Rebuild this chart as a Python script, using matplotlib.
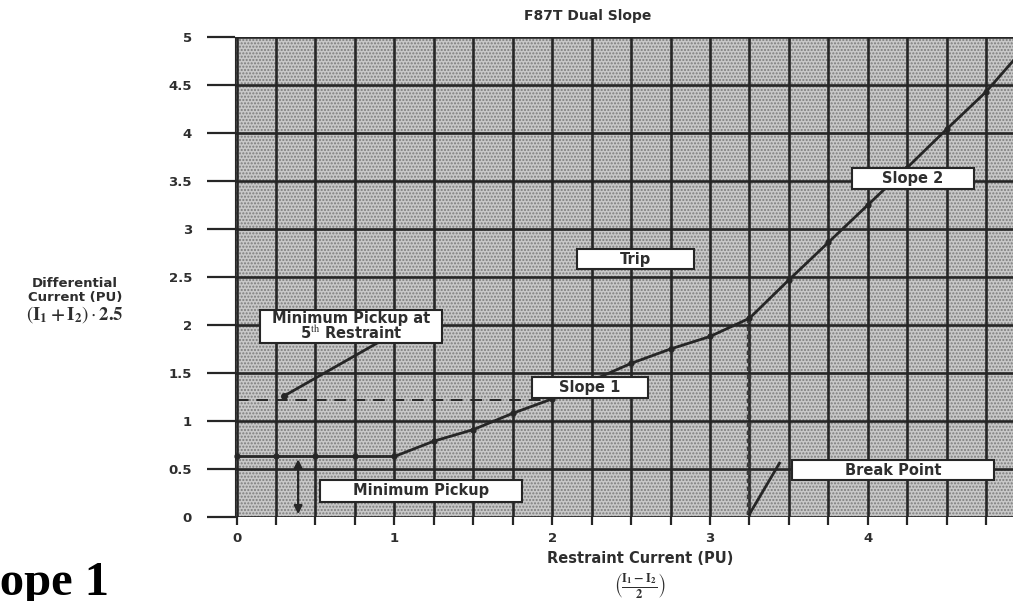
import matplotlib.pyplot as plt
from matplotlib.patches import Rectangle

restraint = [0, 0.25, 0.5, 0.75, 1.0, 1.25, 1.5, 1.75, 2.0, 2.25, 2.5, 2.75,
             3.0, 3.25, 3.5, 3.75, 4.0, 4.25, 4.5, 4.75, 4.92]
differential = [0.63, 0.63, 0.63, 0.63, 0.63, 0.79, 0.91, 1.08, 1.23, 1.42, 1.6, 1.75,
                1.88, 2.07, 2.47, 2.86, 3.25, 3.64, 4.04, 4.43, 4.75]
min_pickup = 0.63
min_pickup_5th = 1.22
break_point = 3.25
break_diff = 2.07
x_ticks = [i * 0.25 for i in range(20)]
y_ticks = [0, 0.5, 1, 1.5, 2, 2.5, 3, 3.5, 4, 4.5, 5]
y_tick_labels = ['0', '0.5', '1', '1.5', '2', '2.5', '3', '3.5', '4', '4.5', '5']

# labelled boxes: text, x0, x1, y0, y1 (data units)
boxes = [
    ('Minimum Pickup at\n5$^{\\mathrm{th}}$ Restraint', 0.15, 1.30, 1.81, 2.16),
    ('Minimum Pickup', 0.53, 1.81, 0.16, 0.39),
    ('Slope 1', 1.87, 2.61, 1.24, 1.46),
    ('Trip', 2.16, 2.90, 2.58, 2.79),
    ('Slope 2', 3.90, 4.67, 3.42, 3.64),
    ('Break Point', 3.52, 4.80, 0.38, 0.59),
]

ink = '#262626'
txt = '#2e2e2e'
plt.rcParams['font.family'] = ['DejaVu Sans']
plt.rcParams['mathtext.fontset'] = 'stix'

fig = plt.figure(figsize=(10.13, 6.01), dpi=100)
ax = fig.add_axes([0.232, 0.1398, 0.768, 0.7987])
ax.set_xlim(-0.01, 4.92)
ax.set_ylim(0, 5)
ax.set_facecolor('#c8c8c8')
# stipple texture like the scanned chart paper
ax.add_patch(Rectangle((0, 0), 1, 1, transform=ax.transAxes, facecolor='none',
                       edgecolor='#7c7c7c', hatch='.....', linewidth=0, zorder=0))

ax.grid(True, color=ink, linewidth=1.9, zorder=1)
ax.set_axisbelow(True)
for s in ['top', 'right', 'bottom']:
    ax.spines[s].set_visible(False)
ax.spines['left'].set_color(ink)

ax.set_xticks(x_ticks)
ax.set_xticklabels([str(int(v)) if float(v).is_integer() else '' for v in x_ticks],
                   fontsize=9.5, fontweight='bold', color=txt)
ax.set_yticks(y_ticks)
ax.set_yticklabels(y_tick_labels, fontsize=9.5, fontweight='bold', color=txt)
ax.tick_params(axis='y', length=20, width=1.6, color=ink, pad=11)
ax.tick_params(axis='x', length=6, width=1.6, color=ink, pad=5)

# characteristic
ax.plot(restraint, differential, color=ink, linewidth=2, marker='o', markersize=3.5,
        markevery=list(range(len(restraint) - 1)), zorder=4, clip_on=False)

# dashed line for minimum pickup at 5th restraint
ax.plot([0, 1.95], [min_pickup_5th, min_pickup_5th], color=ink, linewidth=1.4,
        linestyle=(0, (6, 4)), zorder=3)
# dotted break point line
ax.plot([break_point, break_point], [0.02, break_diff], color='#3a3a3a', linewidth=3.2,
        linestyle=(0, (1, 0.8)), zorder=3)

# arrows / pointers
ax.annotate('', xy=(0.39, min_pickup), xytext=(0.39, 0),
            arrowprops=dict(arrowstyle='<|-|>', color=ink, lw=1.6, mutation_scale=12), zorder=5)
ax.plot([0.3, 0.9], [1.26, 1.82], color=ink, linewidth=2, zorder=4)
ax.plot([0.3], [1.26], 'o', color=ink, markersize=4, zorder=4)
ax.plot([break_point, 3.44], [0.03, 0.56], color=ink, linewidth=2, zorder=4)

for label, x0, x1, y0, y1 in boxes:
    ax.add_patch(Rectangle((x0, y0), x1 - x0, y1 - y0, facecolor='white',
                           edgecolor=ink, linewidth=1.5, zorder=6))
    ax.text((x0 + x1) / 2, (y0 + y1) / 2, label, ha='center', va='center',
            fontsize=10.5, fontweight='bold', color=txt, zorder=7, linespacing=0.95)

fig.text(0.580, 0.974, 'F87T Dual Slope', ha='center', va='center',
         fontsize=10, fontweight='bold', color=txt)
fig.text(0.074, 0.517, 'Differential\nCurrent (PU)', ha='center', va='center',
         fontsize=9.5, fontweight='bold', color=txt, linespacing=1.05)
fig.text(0.074, 0.477, r'$(\mathbf{I_1+I_2})\cdot\mathbf{2.5}$', ha='center', va='center',
         fontsize=13.5, color=txt)
fig.text(0.632, 0.071, 'Restraint Current (PU)', ha='center', va='center',
         fontsize=10.5, fontweight='bold', color=txt)
fig.text(0.632, 0.024, r'$\left(\frac{\mathbf{I_1-I_2}}{\mathbf{2}}\right)$', ha='center',
         va='center', fontsize=13, color=txt)
fig.text(-0.040, -0.006, 'Slope 1', ha='left', va='bottom', fontsize=35,
         fontweight='bold', family='Liberation Serif', color='black')

fig.savefig('out.png', dpi=100)
